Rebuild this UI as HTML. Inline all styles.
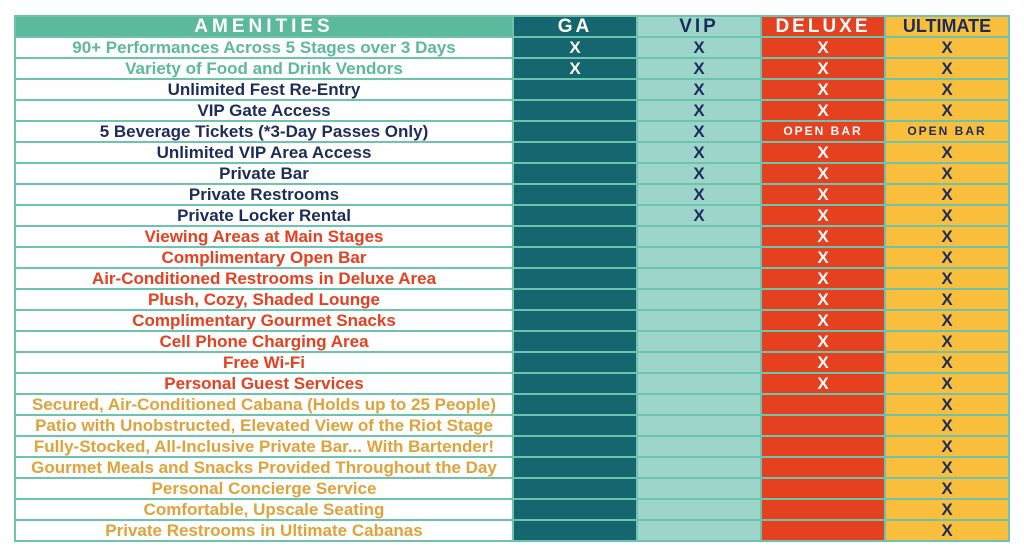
<!DOCTYPE html>
<html><head><meta charset="utf-8"><style>
html,body{margin:0;padding:0;background:#fff;width:1024px;height:555px;overflow:hidden}
table{position:absolute;left:14px;top:15px;border-collapse:collapse;table-layout:fixed;font-family:"Liberation Sans",sans-serif;font-weight:bold}
td{border:2px solid #6cc4ae;height:19px;padding:0;text-align:center;font-size:17px;line-height:19px;white-space:nowrap;overflow:hidden}
td.a{width:496px}
td.g{width:122px;background:#15666f;color:#fff}
td.v{width:122px;background:#9dd5cb;color:#1b2d5c}
td.d{width:122px;background:#e5401f;color:#fff}
td.u{width:122px;background:#f9be3b;color:#1b2d5c}
tr.h td{height:19px;font-size:19px;letter-spacing:3px;font-weight:900;line-height:19px}
tr.h td.a{background:#5cb99c;color:#fff;letter-spacing:4px}
tr.h td.u{letter-spacing:0;font-size:18px}
.ob{font-size:12px;letter-spacing:2px}
.gr{color:#5cb99c}.nv{color:#1b2d5c}.rd{color:#e5401f}.go{color:#e0a23a}
</style></head><body>
<table>
<tr class="h"><td class="a">AMENITIES</td><td class="g">GA</td><td class="v">VIP</td><td class="d">DELUXE</td><td class="u">ULTIMATE</td></tr>
<tr><td class="a gr">90+ Performances Across 5 Stages over 3 Days</td><td class="g">X</td><td class="v">X</td><td class="d">X</td><td class="u">X</td></tr>
<tr><td class="a gr">Variety of Food and Drink Vendors</td><td class="g">X</td><td class="v">X</td><td class="d">X</td><td class="u">X</td></tr>
<tr><td class="a nv">Unlimited Fest Re-Entry</td><td class="g"></td><td class="v">X</td><td class="d">X</td><td class="u">X</td></tr>
<tr><td class="a nv">VIP Gate Access</td><td class="g"></td><td class="v">X</td><td class="d">X</td><td class="u">X</td></tr>
<tr><td class="a nv">5 Beverage Tickets (*3-Day Passes Only)</td><td class="g"></td><td class="v">X</td><td class="d ob">OPEN BAR</td><td class="u ob">OPEN BAR</td></tr>
<tr><td class="a nv">Unlimited VIP Area Access</td><td class="g"></td><td class="v">X</td><td class="d">X</td><td class="u">X</td></tr>
<tr><td class="a nv">Private Bar</td><td class="g"></td><td class="v">X</td><td class="d">X</td><td class="u">X</td></tr>
<tr><td class="a nv">Private Restrooms</td><td class="g"></td><td class="v">X</td><td class="d">X</td><td class="u">X</td></tr>
<tr><td class="a nv">Private Locker Rental</td><td class="g"></td><td class="v">X</td><td class="d">X</td><td class="u">X</td></tr>
<tr><td class="a rd">Viewing Areas at Main Stages</td><td class="g"></td><td class="v"></td><td class="d">X</td><td class="u">X</td></tr>
<tr><td class="a rd">Complimentary Open Bar</td><td class="g"></td><td class="v"></td><td class="d">X</td><td class="u">X</td></tr>
<tr><td class="a rd">Air-Conditioned Restrooms in Deluxe Area</td><td class="g"></td><td class="v"></td><td class="d">X</td><td class="u">X</td></tr>
<tr><td class="a rd">Plush, Cozy, Shaded Lounge</td><td class="g"></td><td class="v"></td><td class="d">X</td><td class="u">X</td></tr>
<tr><td class="a rd">Complimentary Gourmet Snacks</td><td class="g"></td><td class="v"></td><td class="d">X</td><td class="u">X</td></tr>
<tr><td class="a rd">Cell Phone Charging Area</td><td class="g"></td><td class="v"></td><td class="d">X</td><td class="u">X</td></tr>
<tr><td class="a rd">Free Wi-Fi</td><td class="g"></td><td class="v"></td><td class="d">X</td><td class="u">X</td></tr>
<tr><td class="a rd">Personal Guest Services</td><td class="g"></td><td class="v"></td><td class="d">X</td><td class="u">X</td></tr>
<tr><td class="a go">Secured, Air-Conditioned Cabana (Holds up to 25 People)</td><td class="g"></td><td class="v"></td><td class="d"></td><td class="u">X</td></tr>
<tr><td class="a go">Patio with Unobstructed, Elevated View of the Riot Stage</td><td class="g"></td><td class="v"></td><td class="d"></td><td class="u">X</td></tr>
<tr><td class="a go">Fully-Stocked, All-Inclusive Private Bar... With Bartender!</td><td class="g"></td><td class="v"></td><td class="d"></td><td class="u">X</td></tr>
<tr><td class="a go">Gourmet Meals and Snacks Provided Throughout the Day</td><td class="g"></td><td class="v"></td><td class="d"></td><td class="u">X</td></tr>
<tr><td class="a go">Personal Concierge Service</td><td class="g"></td><td class="v"></td><td class="d"></td><td class="u">X</td></tr>
<tr><td class="a go">Comfortable, Upscale Seating</td><td class="g"></td><td class="v"></td><td class="d"></td><td class="u">X</td></tr>
<tr><td class="a go">Private Restrooms in Ultimate Cabanas</td><td class="g"></td><td class="v"></td><td class="d"></td><td class="u">X</td></tr>
</table>
</body></html>
